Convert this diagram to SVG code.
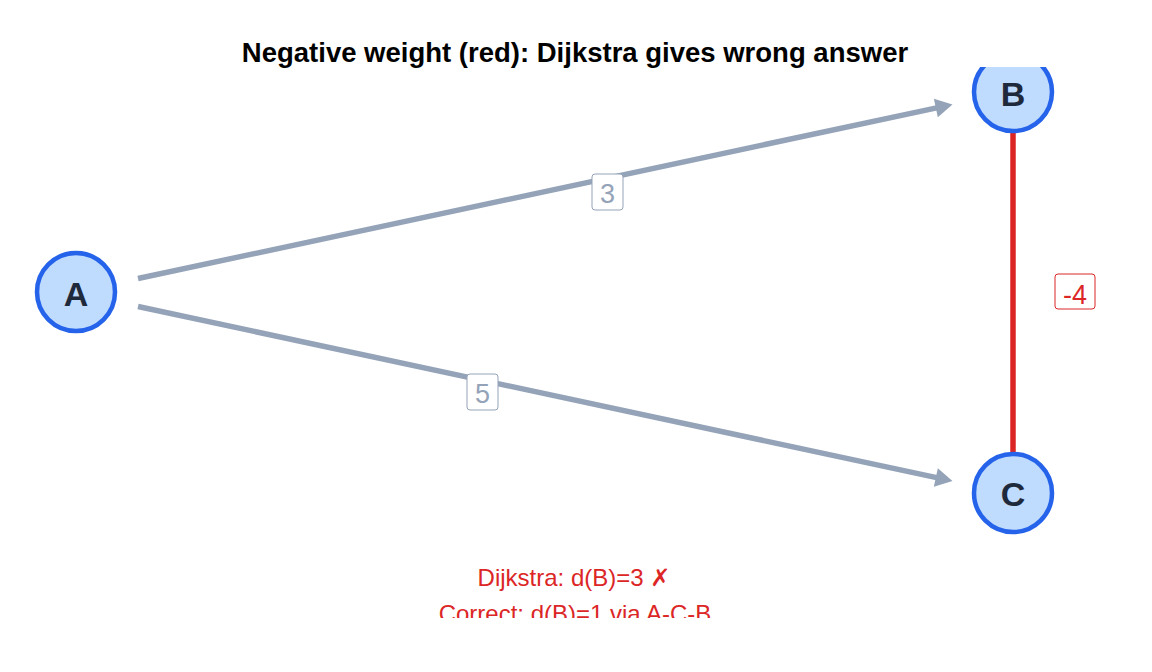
<svg xmlns="http://www.w3.org/2000/svg" width="1152" height="672" viewBox="0 0 1152 672">
<style>
.edge{stroke:#94a3b8;stroke-width:5.5;fill:none}
.neg{stroke:#dc2626;stroke-width:5.5;fill:none}
.node circle{fill:#bfdbfe;stroke:#2563eb;stroke-width:4.5}
.node text{font-family:"Liberation Sans",Arial,sans-serif;font-weight:bold;font-size:34px;fill:#1e293b;text-anchor:middle}
.lbl rect{fill:#ffffff;stroke-width:1}
.lbl text{font-family:"Liberation Sans",Arial,sans-serif;font-size:27px;text-anchor:middle}
.title{font-family:"Liberation Sans",Arial,sans-serif;font-weight:bold;font-size:27.5px;fill:#000;text-anchor:middle}
.note{font-family:"Liberation Sans","DejaVu Sans",Arial,sans-serif;font-size:24px;fill:#dc2626;text-anchor:middle}
</style>
<defs>
<clipPath id="plot"><rect x="0" y="67" width="1152" height="551"/></clipPath>
<marker id="arr" markerUnits="userSpaceOnUse" markerWidth="30" markerHeight="30" viewBox="-5 -15 30 30" refX="0" refY="0" orient="auto">
<path d="M15,0 L-2,-9.5 L-2,9.5 Z" fill="#94a3b8"/>
</marker>
</defs>
<rect width="1152" height="672" fill="#ffffff"/>
<text class="title" x="575" y="62">Negative weight (red): Dijkstra gives wrong answer</text>
<g clip-path="url(#plot)">
<g id="connectors">
<line class="edge" x1="138" y1="278.5" x2="937.8" y2="107.6" marker-end="url(#arr)"/>
<line class="edge" x1="138" y1="306.5" x2="937.8" y2="477.9" marker-end="url(#arr)"/>
<line class="neg" x1="1013" y1="133" x2="1013" y2="452"/>
<g class="lbl"><rect x="592" y="174" width="31" height="36" rx="3" stroke="#94a3b8"/><text x="607.5" y="203" fill="#94a3b8">3</text></g>
<g class="lbl"><rect x="467" y="374" width="31" height="36" rx="3" stroke="#94a3b8"/><text x="482.5" y="402.5" fill="#94a3b8">5</text></g>
<g class="lbl"><rect x="1055" y="274" width="40" height="35" rx="3" stroke="#dc2626"/><text x="1075" y="304" fill="#dc2626">-4</text></g>
</g>
<g id="node-A" class="node"><circle cx="76" cy="292" r="39"/><text x="76" y="305.5">A</text></g>
<g id="node-B" class="node"><circle cx="1013" cy="92" r="39"/><text x="1013" y="105.5">B</text></g>
<g id="node-C" class="node"><circle cx="1013" cy="493" r="39"/><text x="1013" y="506">C</text></g>
<text class="note" x="574" y="586">Dijkstra: d(B)=3 ✗</text>
<text class="note" x="575" y="622">Correct: d(B)=1 via A-C-B</text>
</g>
</svg>
